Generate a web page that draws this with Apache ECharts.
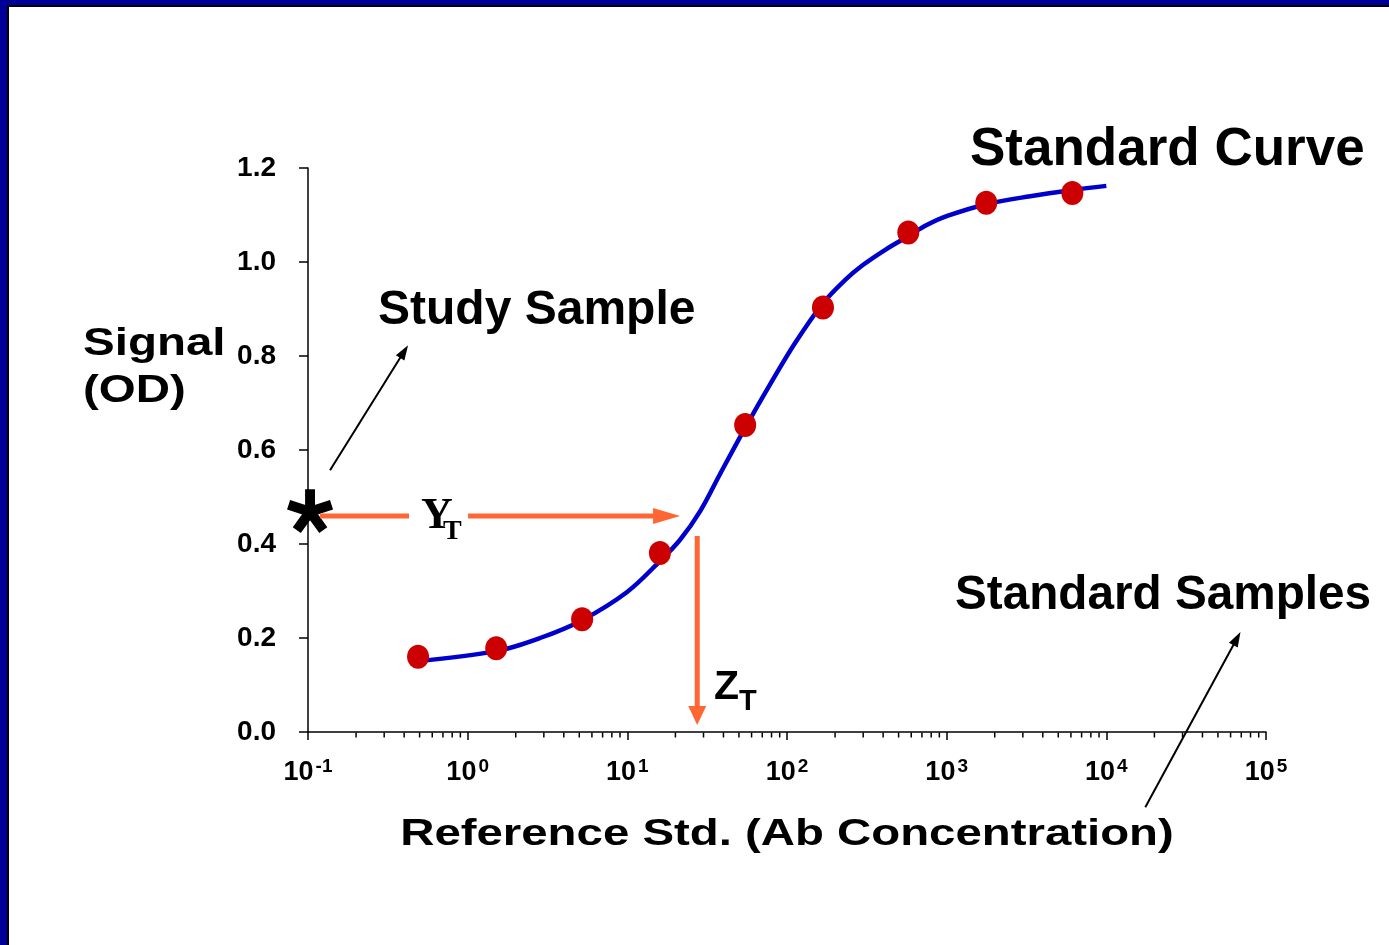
<!DOCTYPE html>
<html><head><meta charset="utf-8">
<script src="https://cdn.jsdelivr.net/npm/echarts@6/dist/echarts.min.js"></script>
<style>html,body{margin:0;padding:0;background:#fff}#c{width:1389px;height:945px}</style>
</head><body><div id="c"></div>
<script>
// ---- data ----
const curveX = [0.489, 1.506, 2.84, 5.21, 9.97, 16.05, 21.4, 28.6, 38.1, 54.7, 78.5, 112.6, 168.6, 231.6, 300, 412.5, 575, 755, 1009, 1770, 3340, 6124, 10000];
const curveY = [0.151, 0.172, 0.200, 0.238, 0.298, 0.364, 0.409, 0.470, 0.549, 0.647, 0.740, 0.828, 0.913, 0.962, 0.994, 1.026, 1.055, 1.079, 1.098, 1.123, 1.140, 1.153, 1.162];
const standardX = [0.489, 1.51, 5.21, 16.0, 54.7, 168, 575, 1770, 6124];
const standardY = [0.160, 0.178, 0.240, 0.381, 0.653, 0.903, 1.063, 1.126, 1.147];
const studySampleX = [0.103];
const studySampleY = [0.470];
const yTickValues = [0, 0.2, 0.4, 0.6, 0.8, 1.0, 1.2];
const xMinorTicks = [0.2,0.3,0.4,0.5,0.6,0.7,0.8,0.9, 2,3,4,5,6,7,8,9, 20,30,40,50,60,70,80,90,
  200,300,400,500,600,700,800,900, 2000,3000,4000,5000,6000,7000,8000,9000,
  20000,30000,40000,50000,60000,70000,80000,90000];
// annotation anchors (data coordinates)
const ytLeftLine = [[0.119, 0.4596], [0.423, 0.4596]];
const ytRightArrow = [[1.006, 0.4596], [21.4, 0.4596]];
const ztArrow = [[27.4, 0.417], [27.4, 0.015]];
const studyPointer = [[0.1374, 0.557], [0.4234, 0.823]];
const samplesPointer = [[17540, -0.16], [69200, 0.213]];

const FONT = '"Liberation Sans", Arial, sans-serif';
const SERIF = '"Liberation Serif", "Times New Roman", serif';

function asteriskPath() {
  const R = 50, h = 11, cx = 50, cy = 50;
  let d = '';
  [90, 18, 162, 234, 306].forEach(a => {
    const t = a * Math.PI / 180;
    const dx = Math.cos(t), dy = -Math.sin(t);
    const nx = Math.sin(t), ny = Math.cos(t);
    const pts = [
      [cx + nx * h, cy + ny * h],
      [cx + nx * h + dx * R, cy + ny * h + dy * R],
      [cx - nx * h + dx * R, cy - ny * h + dy * R],
      [cx - nx * h, cy - ny * h]
    ];
    d += 'M' + pts.map(p => p[0].toFixed(2) + ' ' + p[1].toFixed(2)).join(' L') + ' Z ';
  });
  return 'path://' + d;
}

const chart = echarts.init(document.getElementById('c'), null, {renderer: 'canvas'});
chart.setOption({
  backgroundColor: '#fff',
  animation: false,
  grid: {left: 308, top: 168, right: 123, bottom: 213, containLabel: false},
  xAxis: {
    type: 'log', logBase: 10, min: 0.1, max: 100000,
    axisLine: {lineStyle: {color: '#000', width: 1.5}},
    axisTick: {show: true, length: 8, lineStyle: {color: '#000', width: 1.5}},
    minorTick: {show: false},
    splitLine: {show: false},
    axisLabel: {
      margin: 25, showMinLabel: true, showMaxLabel: true,
      formatter: v => '{b|10}{s|' + Math.round(Math.log10(v)) + '}',
      rich: {
        b: {fontSize: 27, fontWeight: 'bold', fontFamily: FONT, color: '#000', lineHeight: 31},
        s: {fontSize: 19, fontWeight: 'bold', fontFamily: FONT, color: '#000', verticalAlign: 'top', lineHeight: 31, padding: [0, 0, 10, 2]}
      }
    }
  },
  yAxis: {
    type: 'value', min: yTickValues[0], max: yTickValues[yTickValues.length - 1], interval: 0.2,
    axisLine: {show: true, lineStyle: {color: '#000', width: 1.5}},
    axisTick: {show: true, length: 9, lineStyle: {color: '#000', width: 1.5}},
    splitLine: {show: false},
    axisLabel: {margin: 32, formatter: v => v.toFixed(1), fontSize: 28, fontWeight: 'bold', fontFamily: FONT, color: '#000'}
  },
  series: [
    {
      type: 'scatter', silent: true, clip: false, z: 1,
      data: xMinorTicks.map(v => [v, 0]),
      symbol: 'rect', symbolSize: [1.5, 5], symbolOffset: [0, 3],
      itemStyle: {color: '#000', opacity: 1}
    },
    {
      type: 'line', name: 'Standard Curve', smooth: 0.35, showSymbol: false, z: 3,
      data: curveX.map((x, i) => [x, curveY[i]]),
      lineStyle: {color: '#0000CC', width: 4.5}
    },
    {
      type: 'scatter', name: 'Standard Samples', z: 4,
      data: standardX.map((x, i) => [x, standardY[i]]),
      symbol: 'circle', symbolSize: [22, 24],
      itemStyle: {color: '#CC0000', opacity: 1}
    },
    {
      type: 'scatter', name: 'Study Sample', z: 6, clip: false,
      data: studySampleX.map((x, i) => [x, studySampleY[i]]),
      symbol: asteriskPath(), symbolKeepAspect: true, symbolSize: 46,
      itemStyle: {color: '#000', opacity: 1}
    }
  ]
});

function px(p) { return chart.convertToPixel({seriesIndex: 1}, p); }
function arrow(seg, color, w, hl, hw) {
  const p0 = px(seg[0]), p1 = px(seg[1]);
  const dx = p1[0] - p0[0], dy = p1[1] - p0[1], L = Math.hypot(dx, dy);
  const ux = dx / L, uy = dy / L;
  const bx = p1[0] - ux * hl, by = p1[1] - uy * hl;
  const out = [{type: 'line', z: 50, shape: {x1: p0[0], y1: p0[1], x2: bx + ux, y2: by + uy}, style: {stroke: color, lineWidth: w}}];
  if (hl > 0) out.push({type: 'polygon', z: 50, shape: {points: [[p1[0], p1[1]], [bx - uy * hw, by + ux * hw], [bx + uy * hw, by - ux * hw]]}, style: {fill: color}});
  return out;
}
function txt(text, x, y, size, opts) {
  opts = opts || {};
  return {type: 'text', z: 60, x: x, y: y, scaleX: opts.sx || 1,
    style: {text: text, fontSize: size, fontWeight: 'bold', fontFamily: opts.family || FONT, fill: '#000',
      align: opts.align || 'left', verticalAlign: 'middle'}};
}
const ORANGE = '#FF6633';
const g = [
  {type: 'rect', z: 100, shape: {x: 0, y: 0, width: 1389, height: 5}, style: {fill: '#000099'}},
  {type: 'rect', z: 100, shape: {x: 0, y: 0, width: 7, height: 945}, style: {fill: '#000099'}},
  {type: 'rect', z: 100, shape: {x: 7, y: 5, width: 1382, height: 2}, style: {fill: '#000'}},
  {type: 'rect', z: 100, shape: {x: 7, y: 5, width: 2, height: 940}, style: {fill: '#000'}}
]
  .concat(arrow(ytLeftLine, ORANGE, 5, 0, 0))
  .concat(arrow(ytRightArrow, ORANGE, 5, 27, 8))
  .concat(arrow(ztArrow, ORANGE, 5, 19, 9))
  .concat(arrow(studyPointer, '#000', 2, 15, 5))
  .concat(arrow(samplesPointer, '#000', 2, 15, 5))
  .concat([
    txt('Standard Curve', 970, 150, 53),
    txt('Study Sample', 378, 311, 48),
    txt('Standard Samples', 955, 596, 47.7),
    txt('Signal', 83, 345, 38, {sx: 1.25}),
    txt('(OD)', 83, 392, 38, {sx: 1.25}),
    txt('Reference Std. (Ab Concentration)', 787, 835, 37, {align: 'center', sx: 1.28}),
    txt('Y', 421, 517, 44, {family: SERIF}),
    txt('T', 443, 532, 28, {family: SERIF}),
    txt('Z', 714, 688, 41),
    txt('T', 739, 702, 29)
  ]);
chart.setOption({graphic: g});
</script>
</body></html>
